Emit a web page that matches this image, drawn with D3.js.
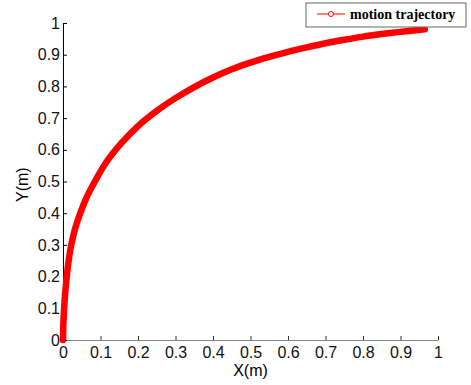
<!DOCTYPE html>
<html>
<head>
<meta charset="utf-8">
<script src="https://cdn.jsdelivr.net/npm/d3@7"></script>
<style>
body { margin: 0; background: #fff; }
text { font-family: "Liberation Sans", Arial, sans-serif; }
</style>
</head>
<body>
<div id="chart"></div>
<script>
// trajectory
const xs = [0, 0.001, 0.003, 0.006, 0.01, 0.015, 0.022, 0.032, 0.046, 0.063, 0.085, 0.115, 0.155, 0.2, 0.25, 0.3, 0.35, 0.4, 0.45, 0.5, 0.55, 0.6, 0.65, 0.7, 0.75, 0.8, 0.85, 0.9, 0.965];
const ys = [0, 0.05, 0.1, 0.15, 0.2, 0.25, 0.3, 0.35, 0.4, 0.45, 0.5, 0.56, 0.62, 0.675, 0.723, 0.763, 0.798, 0.828, 0.854, 0.875, 0.893, 0.909, 0.923, 0.936, 0.947, 0.957, 0.965, 0.972, 0.98];
const ticks = [0, 0.1, 0.2, 0.3, 0.4, 0.5, 0.6, 0.7, 0.8, 0.9, 1];
const seriesName = "motion trajectory";

const width = 471, height = 385;
const margin = {top: 23, right: 33, bottom: 45, left: 63};

const svg = d3.select("#chart").append("svg")
    .attr("width", width)
    .attr("height", height);

const x = d3.scaleLinear().domain([0, 1]).range([margin.left, width - margin.right]);
const y = d3.scaleLinear().domain([0, 1]).range([height - margin.bottom, margin.top]);

const fmt = d => d === 0 || d === 1 ? String(d) : d3.format(".1f")(d);

// x axis
const gx = svg.append("g")
    .attr("transform", "translate(0," + y(0) + ")")
    .call(d3.axisBottom(x).tickValues(ticks).tickFormat(fmt).tickSizeInner(-4).tickSizeOuter(0).tickPadding(7));
gx.select(".domain").attr("stroke", "#888");
gx.selectAll(".tick line").attr("stroke", "#333");
gx.selectAll("text").attr("font-size", 16).attr("fill", "#111");

// y axis
const gy = svg.append("g")
    .attr("transform", "translate(" + x(0) + ",0)")
    .call(d3.axisLeft(y).tickValues(ticks).tickFormat(fmt).tickSizeInner(-4).tickSizeOuter(0).tickPadding(3));
gy.select(".domain").attr("stroke", "#000");
gy.selectAll("text").attr("font-size", 16).attr("fill", "#111");

svg.append("text")
    .attr("x", x(0.5))
    .attr("y", 376)
    .attr("text-anchor", "middle")
    .attr("font-size", 16)
    .text("X(m)");

svg.append("text")
    .attr("transform", "translate(28," + y(0.49) + ") rotate(-90)")
    .attr("text-anchor", "middle")
    .attr("font-size", 16)
    .text("Y(m)");

// trajectory
const pts = xs.map((v, i) => [v, ys[i]]);
const line = d3.line()
    .x(d => x(d[0]))
    .y(d => y(d[1]))
    .curve(d3.curveCatmullRom);

svg.append("path")
    .datum(pts)
    .attr("d", line)
    .attr("fill", "none")
    .attr("stroke", "#ff0000")
    .attr("stroke-width", 6.5)
    .attr("stroke-linecap", "round");

// legend
const lg = svg.append("g").attr("transform", "translate(306,3)");
lg.append("rect")
    .attr("width", 160)
    .attr("height", 24)
    .attr("fill", "#fff")
    .attr("stroke", "#666");
lg.append("line")
    .attr("x1", 11).attr("x2", 39)
    .attr("y1", 11).attr("y2", 11)
    .attr("stroke", "#ff0000");
lg.append("circle")
    .attr("cx", 25).attr("cy", 11).attr("r", 2.5)
    .attr("fill", "#fff").attr("stroke", "#ff0000");
lg.append("text")
    .attr("x", 44)
    .attr("y", 16)
    .style("font-family", "'Liberation Serif', 'Times New Roman', serif")
    .style("font-weight", "bold")
    .style("font-size", "14px")
    .text(seriesName);
</script>
</body>
</html>
